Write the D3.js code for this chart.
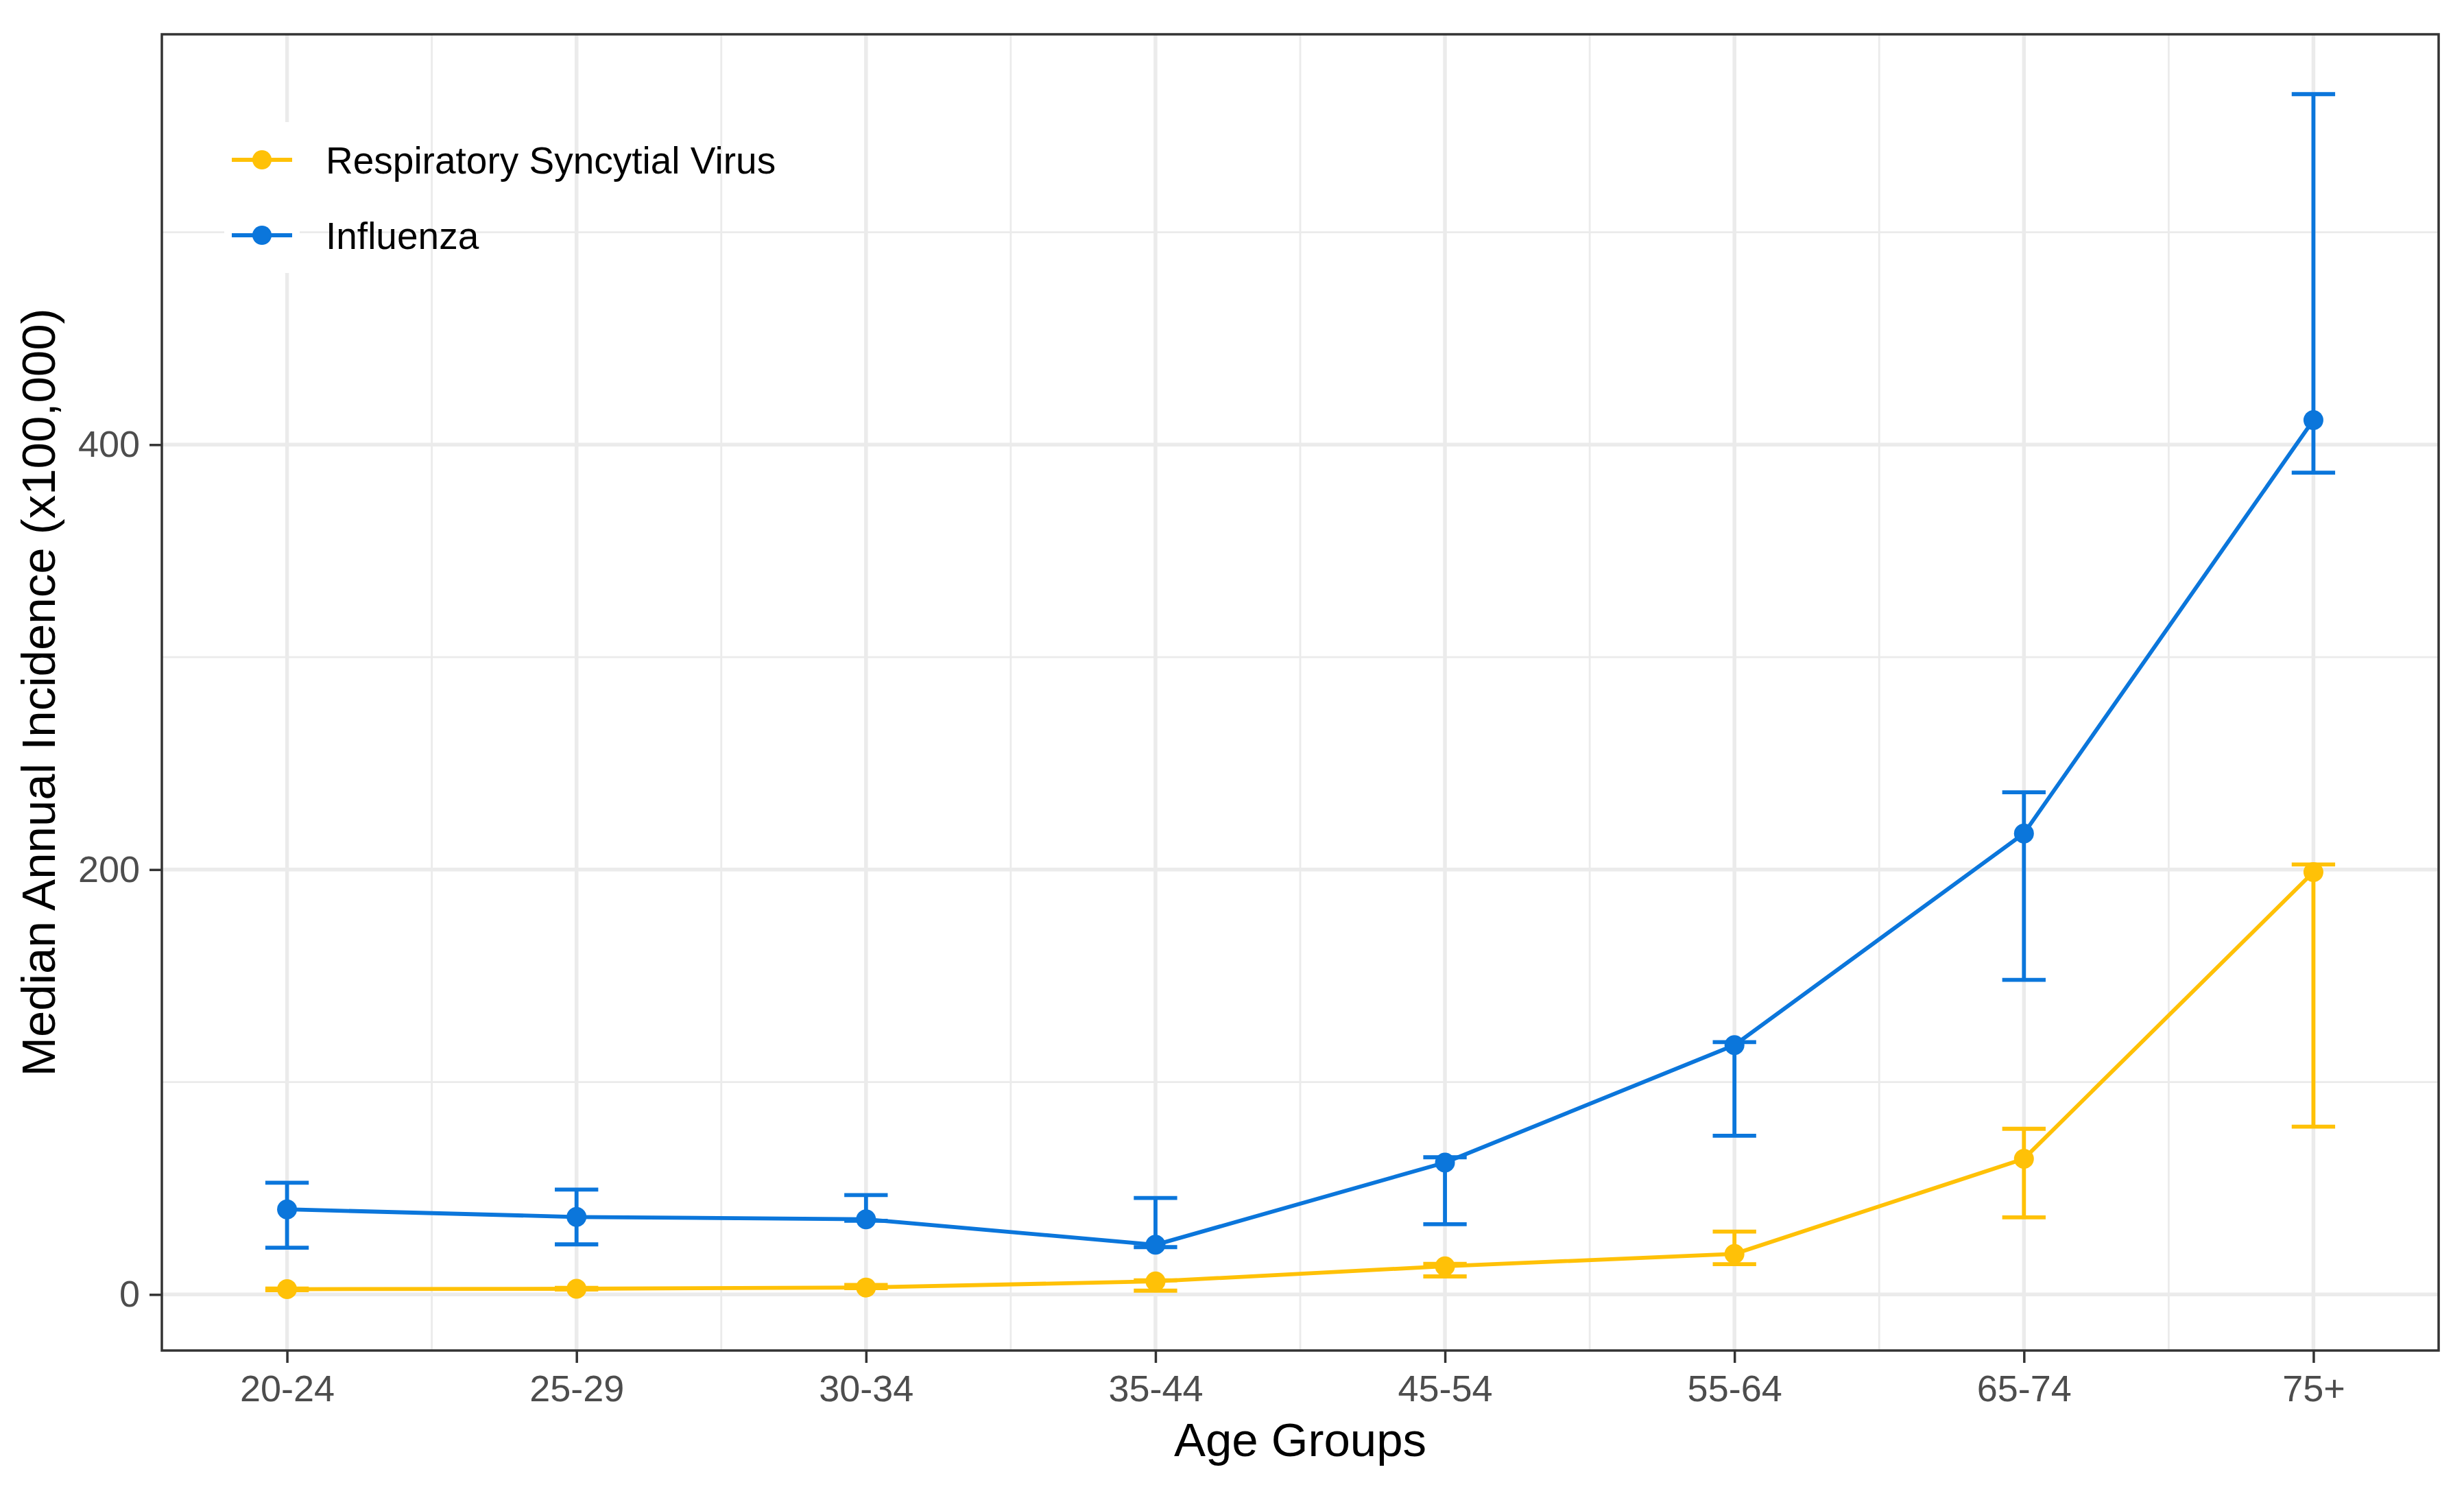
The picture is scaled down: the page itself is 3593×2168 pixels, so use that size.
<!DOCTYPE html>
<html>
<head>
<meta charset="utf-8">
<script src="https://cdn.jsdelivr.net/npm/d3@7"></script>
<style>
  html, body { margin: 0; padding: 0; background: #ffffff; }
  svg { display: block; }
  text { font-family: "Liberation Sans", Arial, Helvetica, sans-serif; }
</style>
</head>
<body>
<svg id="chart" width="3593" height="2168"></svg>
<script>
// ---------- data ----------
const categories = ["20-24", "25-29", "30-34", "35-44", "45-54", "55-64", "65-74", "75+"];
const seriesNames = ["Respiratory Syncytial Virus", "Influenza"];
const seriesColors = ["#FFC107", "#0B76DB"];

const rsvMedian = [2.5, 2.7, 3.3, 6.2, 13.3, 19.1, 63.9, 198.8];
const rsvLower  = [2.0, 2.3, 3.0, 1.8, 8.5, 14.3, 36.3, 79.0];
const rsvUpper  = [2.8, 3.1, 4.5, 6.7, 14.4, 29.6, 78.0, 202.4];

const fluMedian = [40.1, 36.5, 35.4, 23.4, 62.1, 117.4, 217.0, 411.6];
const fluLower  = [22.0, 23.6, 34.7, 22.3, 33.1, 74.7, 148.1, 386.8];
const fluUpper  = [52.6, 49.4, 46.8, 45.4, 64.6, 118.8, 236.4, 565.0];

const yMajorTicks = [0, 200, 400];
const yMinorTicks = [100, 300, 500];

const xTitle = "Age Groups";
const yTitle = "Median Annual Incidence (x100,000)";

// ---------- layout ----------
const W = 3593, H = 2168;
const panel = { left: 236, right: 3556, top: 50, bottom: 1969 };
const errHalfWidth = 0.075;

const series = [
  { name: seriesNames[0], color: seriesColors[0], med: rsvMedian, lo: rsvLower, hi: rsvUpper },
  { name: seriesNames[1], color: seriesColors[1], med: fluMedian, lo: fluLower, hi: fluUpper }
];

const svg = d3.select("#chart");
svg.append("rect").attr("width", W).attr("height", H).attr("fill", "#ffffff");

// x: continuous positions 1..n (errorbar width + 5% expansion)
const xmin = 1 - errHalfWidth, xmax = categories.length + errHalfWidth;
const xr = xmax - xmin;
const x = d3.scaleLinear()
  .domain([xmin - 0.05 * xr, xmax + 0.05 * xr])
  .range([panel.left, panel.right]);

const allVals = [].concat(rsvLower, rsvUpper, rsvMedian, fluLower, fluUpper, fluMedian);
const ymin = d3.min(allVals), ymax = d3.max(allVals);
const yr = ymax - ymin;
const y = d3.scaleLinear()
  .domain([ymin - 0.05 * yr, ymax + 0.05 * yr])
  .range([panel.bottom, panel.top]);

const gridColor = "#EBEBEB";
const g = svg.append("g");

// minor grid
const xMinor = d3.range(1.5, categories.length, 1);
g.selectAll("line.xminor").data(xMinor).enter().append("line")
  .attr("x1", d => x(d)).attr("x2", d => x(d))
  .attr("y1", panel.top).attr("y2", panel.bottom)
  .attr("stroke", gridColor).attr("stroke-width", 2.8);
g.selectAll("line.yminor").data(yMinorTicks).enter().append("line")
  .attr("x1", panel.left).attr("x2", panel.right)
  .attr("y1", d => y(d)).attr("y2", d => y(d))
  .attr("stroke", gridColor).attr("stroke-width", 2.8);
// major grid
g.selectAll("line.xmajor").data(categories).enter().append("line")
  .attr("x1", (d, i) => x(i + 1)).attr("x2", (d, i) => x(i + 1))
  .attr("y1", panel.top).attr("y2", panel.bottom)
  .attr("stroke", gridColor).attr("stroke-width", 5.5);
g.selectAll("line.ymajor").data(yMajorTicks).enter().append("line")
  .attr("x1", panel.left).attr("x2", panel.right)
  .attr("y1", d => y(d)).attr("y2", d => y(d))
  .attr("stroke", gridColor).attr("stroke-width", 5.5);

// ---------- series ----------
const lw = 5.8;
const line = d3.line().x((d, i) => x(i + 1)).y(d => y(d));
series.forEach(s => {
  const sg = svg.append("g");
  sg.append("path").datum(s.med)
    .attr("d", line).attr("fill", "none")
    .attr("stroke", s.color).attr("stroke-width", lw)
    .attr("stroke-linejoin", "round");
  const idx = d3.range(categories.length);
  // error bars
  sg.selectAll("line.v").data(idx).enter().append("line")
    .attr("x1", i => x(i + 1)).attr("x2", i => x(i + 1))
    .attr("y1", i => y(s.lo[i])).attr("y2", i => y(s.hi[i]))
    .attr("stroke", s.color).attr("stroke-width", lw);
  sg.selectAll("line.top").data(idx).enter().append("line")
    .attr("x1", i => x(i + 1 - errHalfWidth)).attr("x2", i => x(i + 1 + errHalfWidth))
    .attr("y1", i => y(s.hi[i])).attr("y2", i => y(s.hi[i]))
    .attr("stroke", s.color).attr("stroke-width", lw);
  sg.selectAll("line.bot").data(idx).enter().append("line")
    .attr("x1", i => x(i + 1 - errHalfWidth)).attr("x2", i => x(i + 1 + errHalfWidth))
    .attr("y1", i => y(s.lo[i])).attr("y2", i => y(s.lo[i]))
    .attr("stroke", s.color).attr("stroke-width", lw);
  // points
  sg.selectAll("circle").data(s.med).enter().append("circle")
    .attr("cx", (d, i) => x(i + 1)).attr("cy", d => y(d))
    .attr("r", 14.5).attr("fill", s.color);
});

// ---------- panel border ----------
svg.append("rect")
  .attr("x", panel.left).attr("y", panel.top)
  .attr("width", panel.right - panel.left).attr("height", panel.bottom - panel.top)
  .attr("fill", "none").attr("stroke", "#333333").attr("stroke-width", 3.5);

// ---------- axes ----------
const tickColor = "#333333", labelColor = "#4D4D4D";
const xAxis = d3.axisBottom(x)
  .tickValues(d3.range(1, categories.length + 1))
  .tickFormat(d => categories[d - 1])
  .tickSize(18).tickPadding(18);
const xg = svg.append("g").attr("transform", `translate(0,${panel.bottom})`).call(xAxis);
xg.select(".domain").remove();
xg.selectAll(".tick line").attr("stroke", tickColor).attr("stroke-width", 3.5);
xg.selectAll(".tick text").attr("fill", labelColor).attr("font-size", 54)
  .attr("font-family", "Liberation Sans, Arial, sans-serif");

const yAxis = d3.axisLeft(y).tickValues(yMajorTicks).tickFormat(d3.format("d"))
  .tickSize(18).tickPadding(14);
const yg = svg.append("g").attr("transform", `translate(${panel.left},0)`).call(yAxis);
yg.select(".domain").remove();
yg.selectAll(".tick line").attr("stroke", tickColor).attr("stroke-width", 3.5);
yg.selectAll(".tick text").attr("fill", labelColor).attr("font-size", 54)
  .attr("font-family", "Liberation Sans, Arial, sans-serif");

// axis titles
svg.append("text")
  .attr("x", (panel.left + panel.right) / 2).attr("y", 2123)
  .attr("text-anchor", "middle").attr("font-size", 69).attr("fill", "#000000")
  .text(xTitle);
svg.append("text")
  .attr("transform", `translate(80,${(panel.top + panel.bottom) / 2}) rotate(-90)`)
  .attr("text-anchor", "middle").attr("font-size", 69).attr("fill", "#000000")
  .text(yTitle);

// ---------- legend ----------
const key = { x: 327, y: 178, size: 110 };
const lg = svg.append("g");
series.forEach((s, i) => {
  const ky = key.y + i * key.size;
  lg.append("rect").attr("x", key.x).attr("y", ky)
    .attr("width", key.size).attr("height", key.size).attr("fill", "#ffffff");
  const cy = ky + key.size / 2;
  lg.append("line")
    .attr("x1", key.x + key.size * 0.1).attr("x2", key.x + key.size * 0.9)
    .attr("y1", cy).attr("y2", cy)
    .attr("stroke", s.color).attr("stroke-width", lw);
  lg.append("circle").attr("cx", key.x + key.size / 2).attr("cy", cy)
    .attr("r", 14).attr("fill", s.color);
  lg.append("text")
    .attr("x", 475).attr("y", cy).attr("dy", "0.36em")
    .attr("font-size", 55).attr("fill", "#000000")
    .text(s.name);
});
</script>
</body>
</html>
